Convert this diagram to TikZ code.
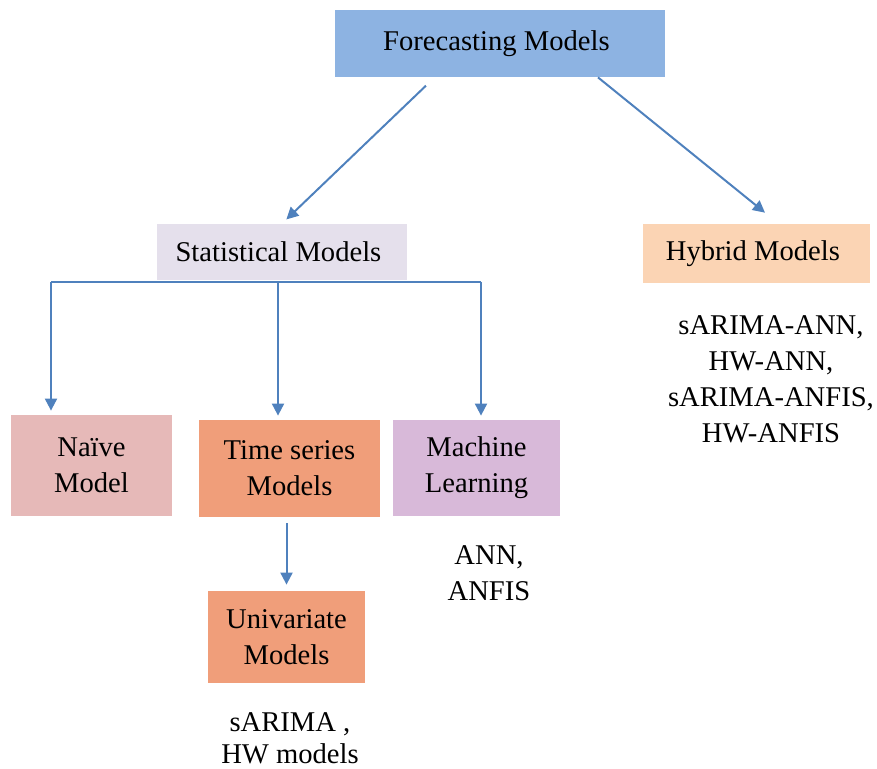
\documentclass[tikz,border=0pt]{standalone}
\usepackage{fontspec}
\setmainfont{Liberation Serif}
\usepackage{xcolor}
\usetikzlibrary{arrows.meta,positioning}

\definecolor{forecastblue}{HTML}{8DB3E2}
\definecolor{statlavender}{HTML}{E5E0EC}
\definecolor{hybridpeach}{HTML}{FBD4B4}
\definecolor{naivepink}{HTML}{E6B9B8}
\definecolor{tsorange}{HTML}{F09E7A}
\definecolor{mllilac}{HTML}{D8B9D9}
\definecolor{linkblue}{HTML}{4F81BD}

\tikzset{
    modelbox/.style={inner sep=0pt, align=center, font=\fontsize{14.3}{18}\selectfont},
    notetext/.style={inner sep=0pt, align=center, anchor=north, font=\fontsize{14.3}{18}\selectfont},
    link/.style={draw=linkblue, line width=1pt},
    arrow/.style={link, -{Triangle[length=6pt,width=6pt]}}
}

\begin{document}
\begin{tikzpicture}[x=0.5pt,y=-0.5pt]
    \useasboundingbox (0,0) rectangle (877,769);
    \node[modelbox, fill=forecastblue, minimum width=165pt, minimum height=33.5pt] (forecast) at (500,43.5) {
        Forecasting Models
    };
    \node[modelbox, fill=statlavender, minimum width=125pt, minimum height=28pt] (stat) at (282,252) {
        Statistical Models
    };
    \node[modelbox, fill=hybridpeach, minimum width=113.5pt, minimum height=29.5pt] (hybrid) at (756.5,253.5) {
        Hybrid Models
    };
    \node[modelbox, fill=naivepink, minimum width=80.5pt, minimum height=50.5pt] (naive) at (91.5,465.5) {
        Naïve\\Model
    };
    \node[modelbox, fill=tsorange, minimum width=90.5pt, minimum height=48.5pt] (ts) at (289.5,468.5) {
        Time series\\Models
    };
    \node[modelbox, fill=mllilac, minimum width=83.5pt, minimum height=48pt] (ml) at (476.5,468) {
        Machine\\Learning
    };
    \node[modelbox, fill=tsorange, minimum width=78.5pt, minimum height=46pt] (univ) at (286.5,637) {
        Univariate\\Models
    };
    % lists of methods
    \node[notetext] (hyblist) at (771,315) {
        sARIMA-ANN,\\HW-ANN,\\sARIMA-ANFIS,\\HW-ANFIS
    };
    \node[notetext] (mllist) at (489,545) {
        ANN,\\ANFIS
    };
    \node[notetext, font=\fontsize{14.3}{16}\selectfont] (univlist) at (290,712) {
        sARIMA ,\\HW models
    };
    % connectors
    \draw[arrow, shorten <=6pt, shorten >=3pt] ([xshift=-32.7pt]forecast.south) -- (stat.north);
    \draw[arrow, shorten >=8.7pt] ([xshift=49pt]forecast.south) -- ([xshift=11pt]hybrid.north);
    \coordinate (busL) at (51,282);
    \coordinate (busM) at (278,282);
    \coordinate (busR) at (481,282);
    \draw[link] (busL) -- (busR);
    \draw[arrow, shorten >=2pt] (busL) -- (busL |- naive.north);
    \draw[arrow, shorten >=2pt] (busM) -- (busM |- ts.north);
    \draw[arrow, shorten >=2pt] (busR) -- (busR |- ml.north);
    \draw[arrow, shorten <=3pt, shorten >=3pt] (ts.south -| univ.north) -- (univ.north);
\end{tikzpicture}
\end{document}
